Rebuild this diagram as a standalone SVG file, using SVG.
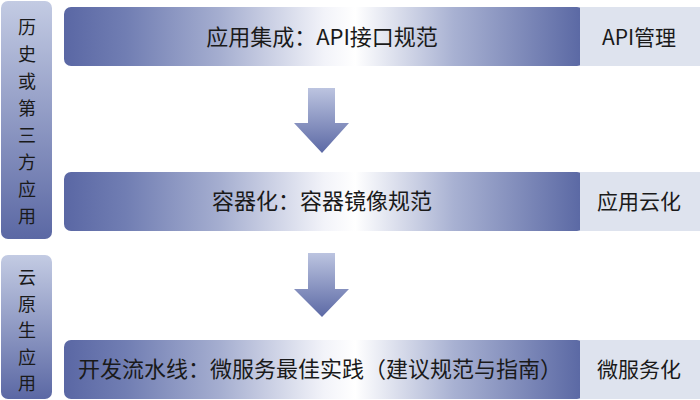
<svg xmlns="http://www.w3.org/2000/svg" width="700" height="400" viewBox="0 0 700 400">
<defs>
<linearGradient id="barG" x1="0" y1="0" x2="1" y2="0">
<stop offset="0" stop-color="#5a67a4"/>
<stop offset="0.12" stop-color="#717eb3"/>
<stop offset="0.3" stop-color="#a5aed0"/>
<stop offset="0.5" stop-color="#f2f3f9"/>
<stop offset="0.56" stop-color="#ffffff"/>
<stop offset="0.75" stop-color="#a8b1d2"/>
<stop offset="1" stop-color="#5967a3"/>
</linearGradient>
<linearGradient id="sideG" x1="0" y1="0" x2="0" y2="1">
<stop offset="0" stop-color="#c3cbe3"/>
<stop offset="1" stop-color="#5b68a4"/>
</linearGradient>
<linearGradient id="arrG" x1="0" y1="0" x2="0" y2="1">
<stop offset="0" stop-color="#bcc4e0"/>
<stop offset="1" stop-color="#5c69a5"/>
</linearGradient>
</defs>
<style>
.cn{font-family:"Noto Sans CJK SC","Liberation Sans",sans-serif;fill:#1a1a1a}
.bar{font-size:22px;text-anchor:middle}
.side{font-size:21px;text-anchor:middle}
.vert{font-size:18px;text-anchor:middle}
.tag{fill:#dee3ee}
</style>
<g id="side1">
<rect x="1" y="1" width="51" height="238" rx="7" fill="url(#sideG)"/>
<text class="cn vert" x="27" y="34">历</text>
<text class="cn vert" x="27" y="61">史</text>
<text class="cn vert" x="27" y="88">或</text>
<text class="cn vert" x="27" y="115">第</text>
<text class="cn vert" x="27" y="142">三</text>
<text class="cn vert" x="27" y="169">方</text>
<text class="cn vert" x="27" y="196">应</text>
<text class="cn vert" x="27" y="223">用</text>
</g>
<g id="side2">
<rect x="1" y="255" width="51" height="144" rx="7" fill="url(#sideG)"/>
<text class="cn vert" x="27" y="284">云</text>
<text class="cn vert" x="27" y="310.5">原</text>
<text class="cn vert" x="27" y="337">生</text>
<text class="cn vert" x="27" y="363.5">应</text>
<text class="cn vert" x="27" y="390">用</text>
</g>
<g id="bar1">
<rect x="64" y="7" width="520" height="59" rx="7" fill="url(#barG)"/>
<rect class="tag" x="580" y="7" width="120" height="59"/>
<text class="cn bar" x="322" y="45">应用集成：API接口规范</text>
<text class="cn side" x="639" y="45">API管理</text>
</g>
<g id="bar2">
<rect x="64" y="172" width="520" height="59" rx="7" fill="url(#barG)"/>
<rect class="tag" x="580" y="172" width="120" height="59"/>
<text class="cn bar" x="322" y="209">容器化：容器镜像规范</text>
<text class="cn side" x="639" y="209">应用云化</text>
</g>
<g id="bar3">
<rect x="64" y="340" width="520" height="59" rx="7" fill="url(#barG)"/>
<rect class="tag" x="580" y="340" width="120" height="59"/>
<text class="cn bar" x="320" y="377">开发流水线：微服务最佳实践（建议规范与指南）</text>
<text class="cn side" x="639" y="377">微服务化</text>
</g>
<g id="connectors">
<path d="M308 88 H335 V123 H349 L322 153 L294 123 H308 Z" fill="url(#arrG)"/>
<path d="M308 253 H335 V289 H349 L322 317 L294 289 H308 Z" fill="url(#arrG)"/>
</g>
</svg>
